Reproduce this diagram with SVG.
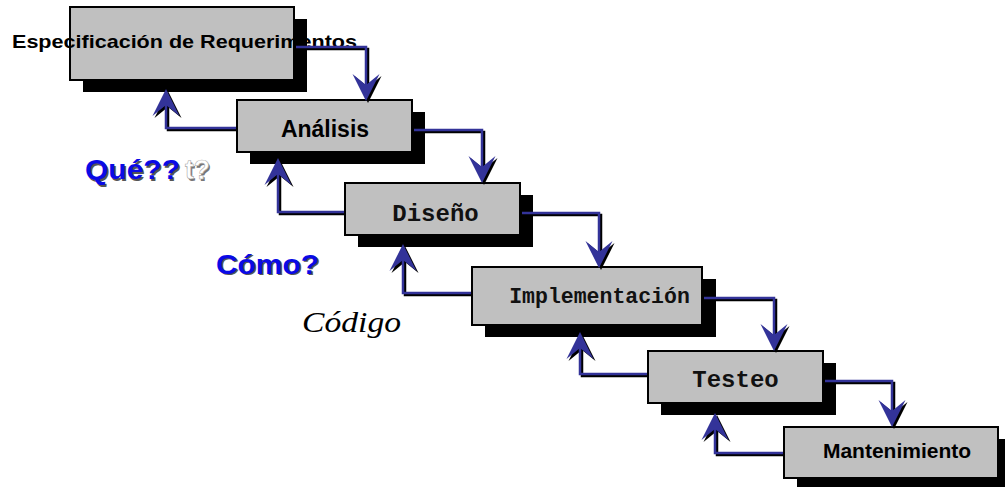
<svg xmlns="http://www.w3.org/2000/svg" width="1005" height="487" viewBox="0 0 1005 487">
<style>
.sh{fill:#000}
.bx{fill:#c0c0c0;stroke:#000;stroke-width:2}
.sans{font-family:"Liberation Sans",Arial,sans-serif;font-weight:bold;fill:#000}
.mono{font-family:"Liberation Mono","Courier New",monospace;font-weight:bold;fill:#111}
.ln{fill:none;stroke:#333399;stroke-width:2.5;marker-end:url(#ah)}
.lns{fill:none;stroke:#000;stroke-width:2.5;marker-end:url(#ahs)}
.q{font-family:"Liberation Sans",Arial,sans-serif;font-weight:bold;font-size:27.5px}
</style>
<defs>
<marker id="ah" markerUnits="userSpaceOnUse" viewBox="-18 -16 32 32" markerWidth="32" markerHeight="32" refX="0" refY="0" orient="auto" overflow="visible">
<path d="M12,0 L-15,-13.5 L-4,0 L-15,13.5 Z" fill="#333399"/>
</marker>
<marker id="ahs" markerUnits="userSpaceOnUse" viewBox="-18 -16 32 32" markerWidth="32" markerHeight="32" refX="0" refY="0" orient="auto" overflow="visible">
<path d="M12,0 L-15,-13.5 L-4,0 L-15,13.5 Z" fill="#000"/>
</marker>
</defs>
<rect width="1005" height="487" fill="#fff"/>

<g id="n1">
<rect class="sh" x="83" y="19" width="224" height="73"/>
<rect class="bx" x="70" y="7" width="224" height="73"/>
<text class="sans" x="12" y="48" font-size="19" textLength="345" lengthAdjust="spacingAndGlyphs">Especificación de Requerimentos</text>
</g>
<g id="n2">
<rect class="sh" x="250" y="112" width="175" height="52"/>
<rect class="bx" x="237" y="100" width="175" height="52"/>
<text class="sans" x="325" y="137" font-size="23" text-anchor="middle">Análisis</text>
</g>
<g id="n3">
<rect class="sh" x="358" y="195" width="175" height="52"/>
<rect class="bx" x="345" y="183" width="175" height="52"/>
<text class="mono" x="435.5" y="221" font-size="24" text-anchor="middle">Diseño</text>
</g>
<g id="n4">
<rect class="sh" x="485" y="279" width="231" height="58"/>
<rect class="bx" x="472" y="267" width="230" height="58"/>
<text class="mono" x="599.5" y="303" font-size="21.5" text-anchor="middle">Implementación</text>
</g>
<g id="n5">
<rect class="sh" x="661" y="363" width="175" height="52"/>
<rect class="bx" x="648" y="351" width="175" height="52"/>
<text class="mono" x="735.5" y="387" font-size="24" text-anchor="middle">Testeo</text>
</g>
<g id="n6">
<rect class="sh" x="797" y="439" width="214" height="51"/>
<rect class="bx" x="784" y="427" width="214" height="51"/>
<text class="sans" x="897" y="458" font-size="21" text-anchor="middle">Mantenimiento</text>
</g>

<g id="connectors">
<g transform="translate(2,2)">
<path class="lns" d="M296,47 H366 V89"/>
<path class="lns" d="M414,130 H482 V171"/>
<path class="lns" d="M522,213 H599 V256"/>
<path class="lns" d="M704,298 H774 V339"/>
<path class="lns" d="M825,381 H892 V415"/>
<path class="lns" d="M234,128 H166 V101"/>
<path class="lns" d="M342,212 H278 V170"/>
<path class="lns" d="M469,293 H403 V256"/>
<path class="lns" d="M645,374 H580 V344"/>
<path class="lns" d="M781,453 H715 V425"/>
</g>
<path class="ln" d="M296,47 H366 V89"/>
<path class="ln" d="M414,130 H482 V171"/>
<path class="ln" d="M522,213 H599 V256"/>
<path class="ln" d="M704,298 H774 V339"/>
<path class="ln" d="M825,381 H892 V415"/>
<path class="ln" d="M236,128 H166 V101"/>
<path class="ln" d="M344,212 H278 V170"/>
<path class="ln" d="M471,293 H403 V256"/>
<path class="ln" d="M647,374 H580 V344"/>
<path class="ln" d="M783,453 H715 V425"/>
</g>

<g id="labels">
<text class="q" x="86.5" y="180.5" fill="#555" textLength="95" lengthAdjust="spacingAndGlyphs">Qué??</text>
<text class="q" x="85" y="179" fill="#0a0ae6" textLength="95" lengthAdjust="spacingAndGlyphs">Qué??</text>
<text class="q" x="186.5" y="180.5" fill="#777" textLength="25" lengthAdjust="spacingAndGlyphs">t?</text>
<text class="q" x="185" y="179" fill="#fff" stroke="#aaa" stroke-width="0.6" textLength="25" lengthAdjust="spacingAndGlyphs">t?</text>
<text class="q" x="217.5" y="275" fill="#555" textLength="103" lengthAdjust="spacingAndGlyphs">Cómo?</text>
<text class="q" x="216" y="273.5" fill="#0a0ae6" textLength="103" lengthAdjust="spacingAndGlyphs">Cómo?</text>
<text x="302" y="332" font-family="'Liberation Serif','Times New Roman',serif" font-style="italic" font-size="29" fill="#000" textLength="99" lengthAdjust="spacingAndGlyphs">Código</text>
</g>
</svg>
